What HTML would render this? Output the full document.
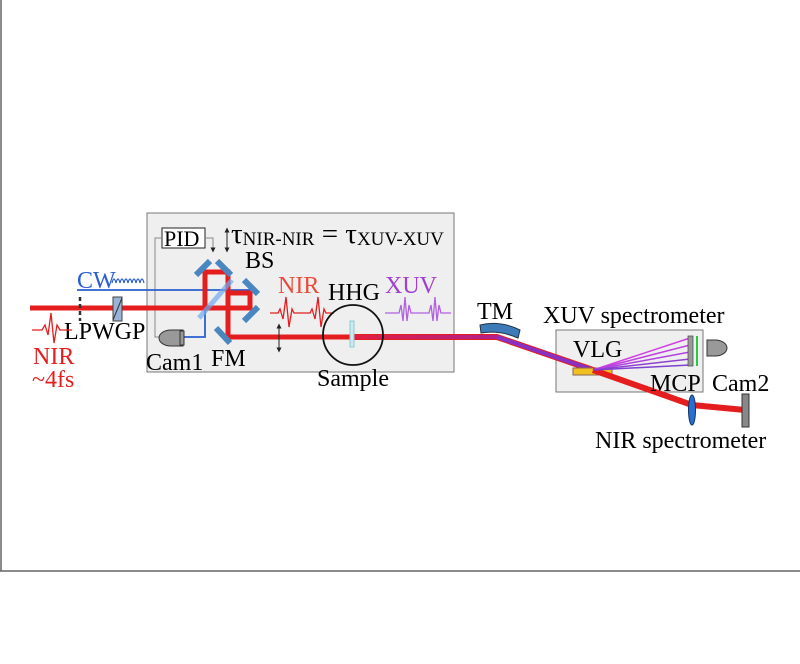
<!DOCTYPE html>
<html><head><style>body{margin:0;background:#fff}svg{display:block}text{font-family:"Liberation Serif",serif}</style></head><body>
<svg width="800" height="664" viewBox="0 0 800 664">
<defs><marker id="a" viewBox="0 0 6 6" refX="3" refY="3" markerWidth="5" markerHeight="5" orient="auto-start-reverse"><path d="M0,0L6,3L0,6z" fill="#222"/></marker>
<linearGradient id="g" x1="0" x2="1"><stop offset="0" stop-color="#e02040"/><stop offset="1" stop-color="#9020c0"/></linearGradient></defs>
<line x1="1" y1="0" x2="1" y2="571" stroke="#666" stroke-width="1.5"/>
<line x1="0" y1="571" x2="800" y2="571" stroke="#666" stroke-width="1.5"/>
<rect x="147" y="213" width="307" height="159" fill="#efefef" stroke="#777"/>
<rect x="556" y="330" width="147" height="62" fill="#efefef" stroke="#777"/>
<rect x="162" y="228" width="43" height="20" fill="#fff" stroke="#222"/>
<text x="164" y="246" font-size="22">PID</text>
<path d="M162,238 H155 V337 H162" fill="none" stroke="#888"/>
<path d="M205,238 H213 V250" fill="none" stroke="#888" marker-end="url(#a)"/>
<line x1="227" y1="230" x2="227" y2="250" stroke="#222" marker-start="url(#a)" marker-end="url(#a)"/>
<text x="231" y="243" font-size="29">τ<tspan font-size="19" dy="2">NIR-NIR</tspan><tspan dy="-2"> = τ</tspan><tspan font-size="19" dy="2">XUV-XUV</tspan></text>
<text x="245" y="268" font-size="24">BS</text>
<text x="77" y="288" font-size="24" fill="#2a5fd0">CW</text>
<path d="M112,283 q2,-8 4,0 q2,-8 4,0 q2,-8 4,0 q2,-8 4,0 q2,-8 4,0 q2,-8 4,0 q2,-8 4,0 q2,-8 4,0" fill="none" stroke="#2a5fd0" stroke-width="1.2"/>
<path d="M77,290 H250 M228,290 V272 H205 V337 H183" fill="none" stroke="#2a5fd0" stroke-width="1.8"/>
<path d="M30,308 H250 V293 H228 M205,308 V272 H228 V337 H353" fill="none" stroke="#e41e1e" stroke-width="5"/>
<line x1="80" y1="297" x2="80" y2="321" stroke="#333" stroke-width="2.5" stroke-dasharray="4,3"/>
<rect x="113" y="297" width="9" height="24" fill="#9ab4d8" stroke="#444"/><line x1="113" y1="320" x2="122" y2="298" stroke="#333"/>
<g stroke="#4a86c0" stroke-width="6"><line x1="196" y1="275" x2="210" y2="261"/><line x1="217" y1="261" x2="231" y2="275"/><line x1="244" y1="280" x2="258" y2="294"/><line x1="244" y1="321" x2="258" y2="307"/><line x1="216" y1="328" x2="230" y2="343"/></g>
<line x1="199" y1="318" x2="232" y2="280" stroke="#6fa8f0" stroke-width="5" opacity=".7"/>
<path d="M183,330 h-12 a12,8 0 0,0 0,16 h12z" fill="#999" stroke="#333"/><rect x="180" y="331" width="4" height="14" fill="#999" stroke="#333"/>
<text x="146" y="370" font-size="24">Cam1</text><text x="211" y="366" font-size="24">FM</text>
<text x="64" y="339" font-size="24">LPWGP</text>
<path d="M32,330 h10 l3,-5 l3,10 l3,-22 l3,30 l3,-18 l3,5 h12" fill="none" stroke="#e41e1e" stroke-width="1.3"/>
<text x="33" y="364" font-size="24" fill="#e41e1e">NIR</text><text x="32" y="387" font-size="24" fill="#e41e1e">~4fs</text>
<text x="278" y="293" font-size="24" fill="#e84c3c">NIR</text>
<path d="M270,313 h8 l2,-4 l3,10 l3,-22 l3,30 l3,-18 l2,4 h16 l2,-4 l3,10 l3,-22 l3,30 l3,-18 l2,4 h8" fill="none" stroke="#e41e1e" stroke-width="1.3"/>
<line x1="279" y1="326" x2="279" y2="350" stroke="#222" marker-start="url(#a)" marker-end="url(#a)"/>
<text x="328" y="300" font-size="24">HHG</text>
<text x="385" y="293" font-size="24" fill="#a040d0">XUV</text>
<path d="M385,313 h14 l2,-8 l2,16 l2,-24 l2,24 l2,-16 l2,8 h18 l2,-8 l2,16 l2,-24 l2,24 l2,-16 l2,8 h10" fill="none" stroke="#b060e0" stroke-width="1.3"/>
<path d="M353,337 H497 L593,370" fill="none" stroke="#e41e1e" stroke-width="6"/>
<path d="M353,337 H497 L593,370" fill="none" stroke="url(#g)" stroke-width="4"/>
<path d="M497,337 L593,370" stroke="#8a30c0" stroke-width="4"/>
<circle cx="353" cy="335" r="30" fill="none" stroke="#111" stroke-width="1.8"/>
<rect x="350" y="321" width="4" height="26" fill="#cfe8f0" stroke="#8cc"/>
<text x="317" y="386" font-size="24">Sample</text>
<path d="M480,325 Q500,320 520,330 L518,338 Q500,330 481,333z" fill="#3d7ab8" stroke="#234"/>
<text x="477" y="319" font-size="24">TM</text>
<text x="543" y="323" font-size="24">XUV spectrometer</text>
<text x="573" y="357" font-size="24">VLG</text>
<rect x="573" y="368" width="39" height="7" fill="#f0c020" stroke="#865"/>
<path d="M593,370 L692,405 L745,410" fill="none" stroke="#e41e1e" stroke-width="6"/>
<g stroke-width="1.5"><line x1="593" y1="370" x2="690" y2="338" stroke="#d040e0"/><line x1="593" y1="370" x2="690" y2="345" stroke="#c040e0"/><line x1="593" y1="370" x2="690" y2="352" stroke="#b040e0"/><line x1="593" y1="370" x2="690" y2="359" stroke="#9040d0"/><line x1="593" y1="370" x2="690" y2="365" stroke="#8040d0"/></g>
<rect x="688" y="336" width="5" height="30" fill="#999" stroke="#444" stroke-width=".7"/>
<line x1="697" y1="336" x2="697" y2="366" stroke="#2c4" stroke-width="2"/>
<path d="M707,340 h8 a12,8 0 0,1 0,16 h-8z" fill="#999" stroke="#333"/>
<text x="650" y="391" font-size="24">MCP</text><text x="712" y="391" font-size="24">Cam2</text>
<ellipse cx="692" cy="410" rx="3.5" ry="15" fill="#2a6fd0" stroke="#136"/>
<rect x="742" y="394" width="7" height="33" fill="#888" stroke="#333"/>
<text x="595" y="448" font-size="24">NIR spectrometer</text>
</svg></body></html>
